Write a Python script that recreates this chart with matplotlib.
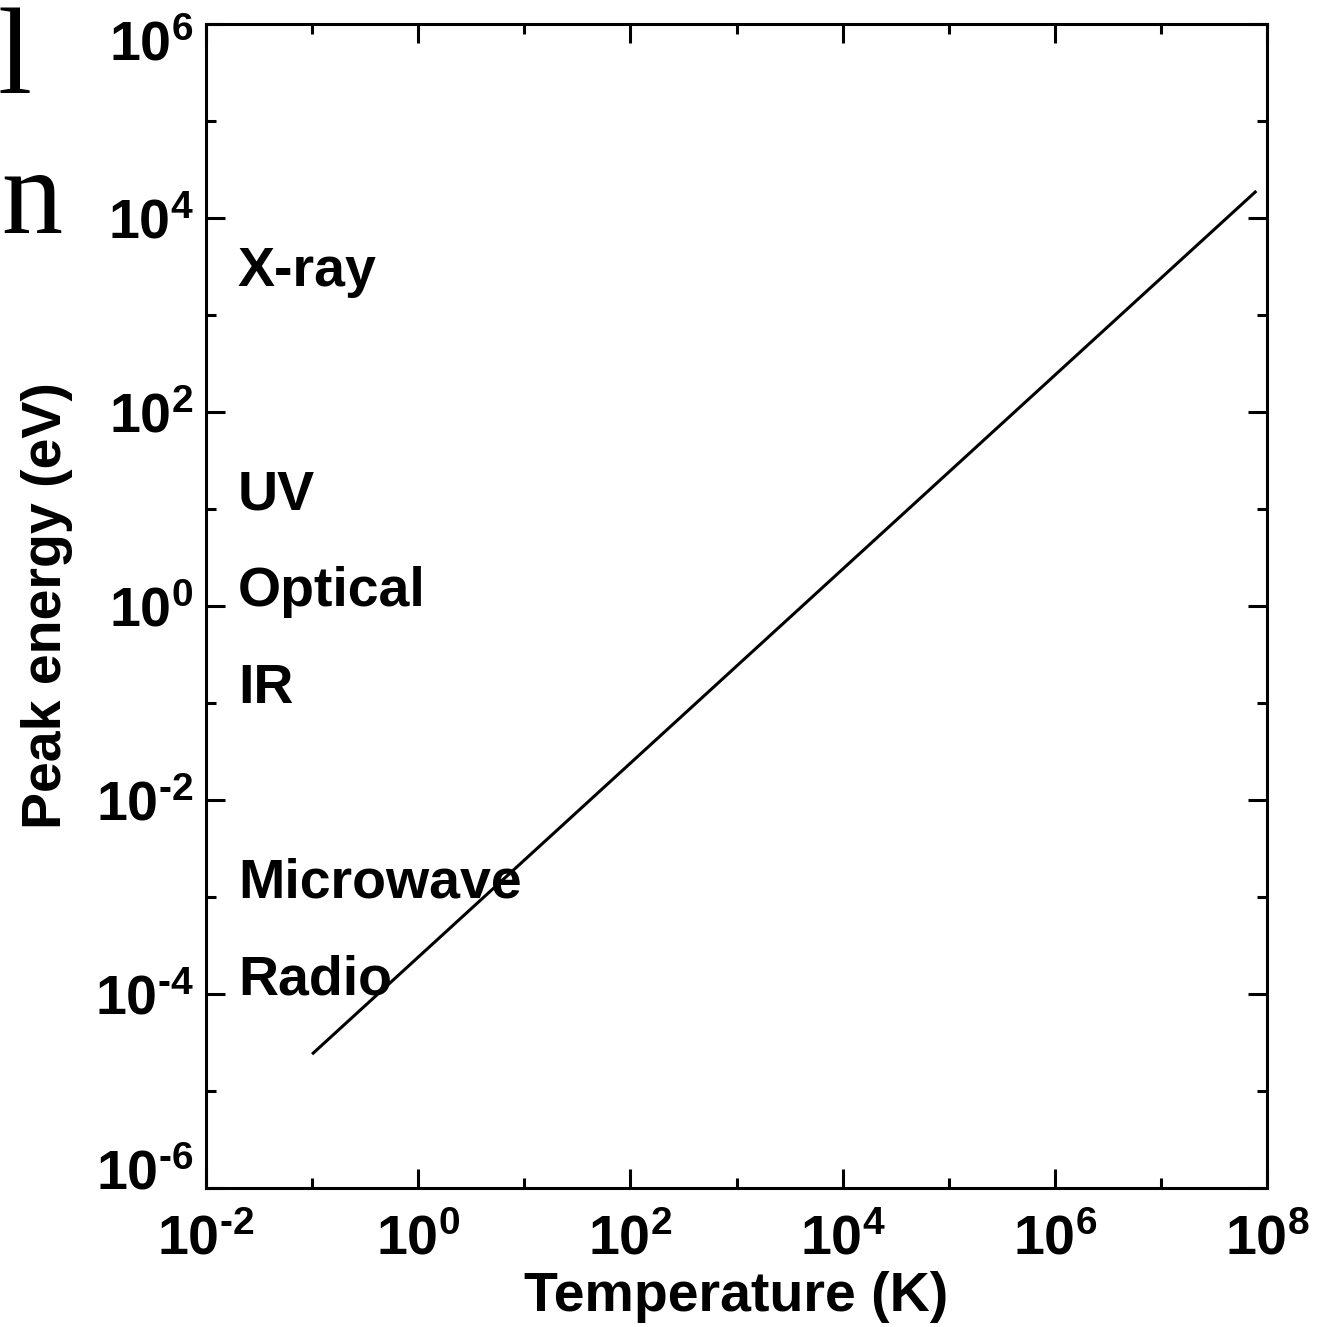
import matplotlib
matplotlib.use('Agg')
import matplotlib.pyplot as plt
import matplotlib.transforms as mtransforms
from matplotlib.ticker import NullFormatter

# Wien peak energy vs temperature (two end points)
temperature = [0.1, 7.9e7]
peak_energy = [2.4e-5, 1.9e4]

band_names = ['X-ray', 'UV', 'Optical', 'IR', 'Microwave', 'Radio']
band_energy = [2e3, 10, 1, 0.1, 1e-3, 1e-4]
band_x = 0.02

x_major = [1e-2, 1e0, 1e2, 1e4, 1e6, 1e8]
x_minor = [1e-1, 1e1, 1e3, 1e5, 1e7]
x_labels = ['-2', '0', '2', '4', '6', '8']
y_major = [1e-6, 1e-4, 1e-2, 1e0, 1e2, 1e4, 1e6]
y_minor = [1e-5, 1e-3, 1e-1, 1e1, 1e3, 1e5]
y_labels = ['-6', '-4', '-2', '0', '2', '4', '6']

plt.rcParams['font.family'] = ['Liberation Sans', 'DejaVu Sans']
plt.rcParams['font.weight'] = 'bold'
plt.rcParams['mathtext.fontset'] = 'custom'
plt.rcParams['mathtext.rm'] = 'Liberation Sans:bold'
plt.rcParams['mathtext.bf'] = 'Liberation Sans:bold'
plt.rcParams['mathtext.it'] = 'Liberation Sans:bold'


def exp_label(e):
    return r'$\mathrm{10}^{\text{' + e + '}}$'


fig = plt.figure(figsize=(13.2, 13.27), dpi=100)
ax = fig.add_axes([0.156, 0.1047, 0.804, 0.8772])

ax.plot(temperature, peak_energy, color='black', lw=2.2, solid_capstyle='butt')

ax.set_xscale('log')
ax.set_yscale('log')
ax.set_xlim(1e-2, 1e8)
ax.set_ylim(1e-6, 1e6)

ax.set_xticks(x_major)
ax.set_xticks(x_minor, minor=True)
ax.set_xticklabels([exp_label(e) for e in x_labels])
ax.xaxis.set_minor_formatter(NullFormatter())
ax.set_yticks(y_major)
ax.set_yticks(y_minor, minor=True)
ax.set_yticklabels([exp_label(e) for e in y_labels])
ax.yaxis.set_minor_formatter(NullFormatter())

ax.tick_params(which='both', direction='in', top=True, right=True, width=2.2, labelsize=40)
ax.tick_params(which='major', length=14)
ax.tick_params(which='minor', length=7)
ax.tick_params(axis='x', which='major', pad=19)
ax.tick_params(axis='y', which='major', pad=9)
for s in ax.spines.values():
    s.set_linewidth(2.2)

# end labels on y are nudged inwards, as in the original
ylabs = ax.get_yticklabels()
ylabs[-1].set_transform(ylabs[-1].get_transform()
                        + mtransforms.ScaledTranslation(0, -0.16, fig.dpi_scale_trans))
ylabs[0].set_transform(ylabs[0].get_transform()
                       + mtransforms.ScaledTranslation(0, 0.19, fig.dpi_scale_trans))

ax.set_xlabel('Temperature (K)', fontsize=40, fontweight='bold', labelpad=3)
ax.set_ylabel('Peak energy (eV)', fontsize=40, fontweight='bold', labelpad=16)

for name, e in zip(band_names, band_energy):
    ax.text(band_x, e, name, fontsize=40, fontweight='bold', va='baseline', ha='left')

# bits of slide text cut off at the left edge
fig.text(32 / 1320, 1 - 93 / 1327, 'l', fontsize=88, family='Liberation Serif',
         fontweight='normal', ha='right', va='baseline')
fig.text(62 / 1320, 1 - 233 / 1327, 'n', fontsize=88, family='Liberation Serif',
         fontweight='normal', ha='right', va='baseline')

fig.savefig('out.png', dpi=100)
